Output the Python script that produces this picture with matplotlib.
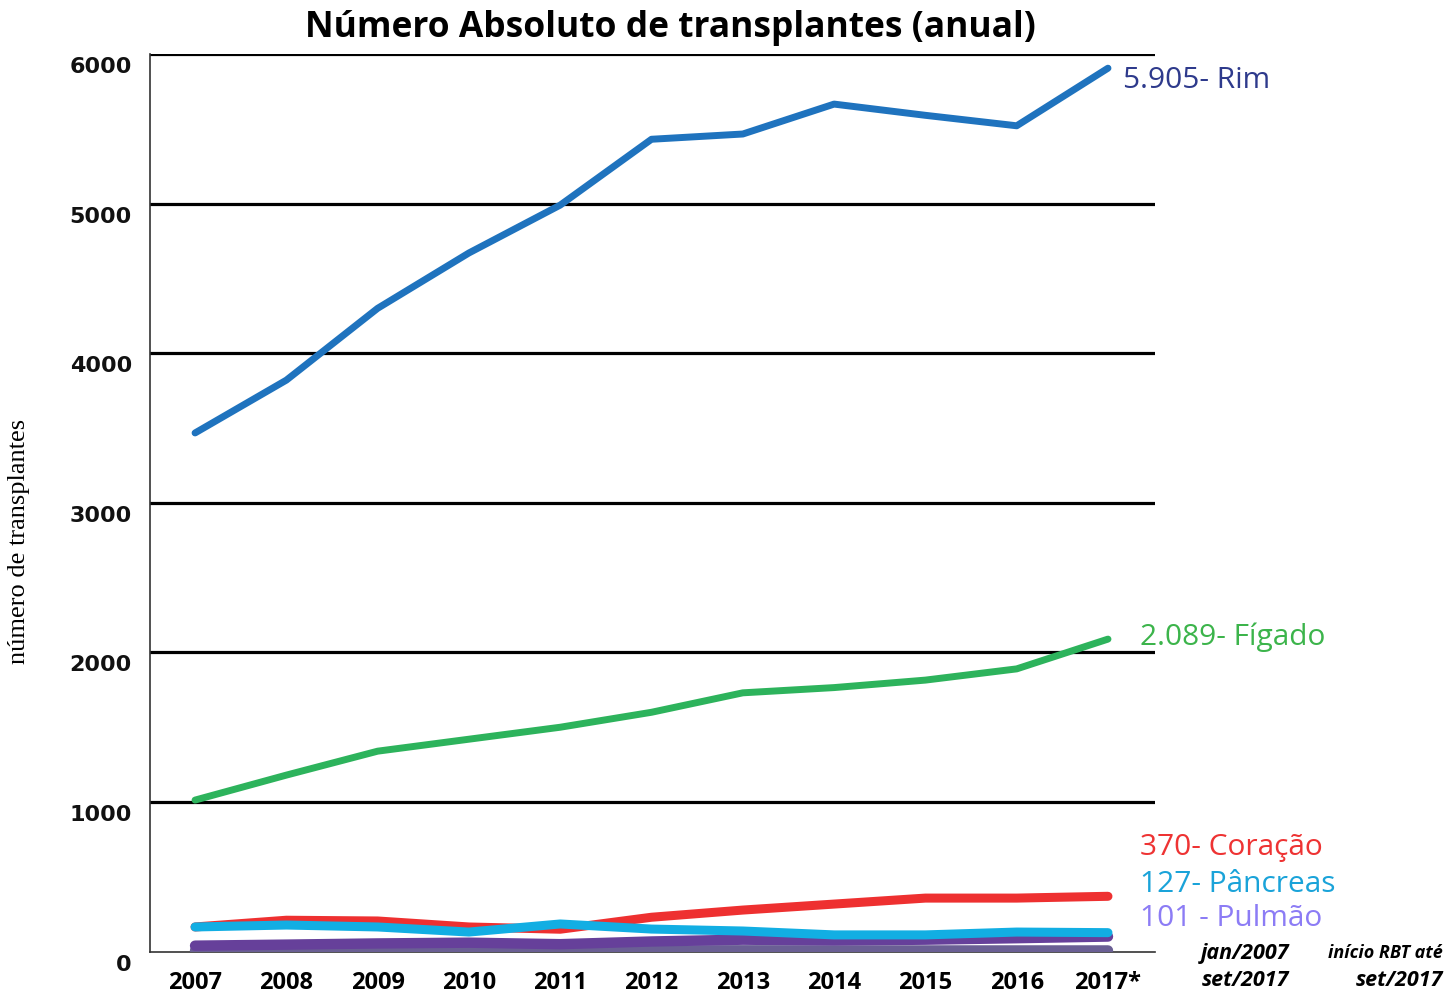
import matplotlib
matplotlib.use("Agg")
import matplotlib.pyplot as plt
import matplotlib.transforms as mtransforms

anos = [2007, 2008, 2009, 2010, 2011, 2012, 2013, 2014, 2015, 2016, 2017]
ano_labels = ['2007', '2008', '2009', '2010', '2011', '2012', '2013', '2014', '2015', '2016', '2017*']

rim = [3467, 3820, 4300, 4670, 4990, 5430, 5465, 5665, 5590, 5520, 5905]
figado = [1013, 1180, 1340, 1420, 1500, 1600, 1730, 1765, 1815, 1890, 2089]
coracao = [165, 210, 205, 165, 150, 230, 278, 318, 358, 358, 370]
pancreas = [165, 178, 165, 131, 185, 151, 138, 112, 112, 131, 127]
pulmao = [40, 47, 55, 60, 50, 68, 80, 75, 80, 90, 101]
outros = [8, 8, 9, 9, 8, 8, 9, 8, 8, 8, 8]

plt.rcParams['font.family'] = ['Open Sans', 'DejaVu Sans']

fig = plt.figure(figsize=(14.47, 9.94), dpi=100)
ax = fig.add_axes([0.1037, 0.0426, 0.6945, 0.9031])

ax.plot(anos, outros, color='#6a5f94', lw=7.5, solid_capstyle='round', zorder=3)
ax.plot(anos, pulmao, color='#66409a', lw=7.5, solid_capstyle='round', zorder=4)
ax.plot(anos, coracao, color='#ee3030', lw=6.5, solid_capstyle='round', zorder=5)
ax.plot(anos, pancreas, color='#12aee3', lw=6.5, solid_capstyle='round', zorder=6)
ax.plot(anos, figado, color='#2db35c', lw=5, solid_capstyle='round', zorder=5)
ax.plot(anos, rim, color='#1f73be', lw=5, solid_capstyle='round', zorder=5)

ax.set_xlim(2006.507, 2017.515)
ax.set_ylim(0, 6000)
ax.set_yticks([0, 1000, 2000, 3000, 4000, 5000, 6000])
ax.set_xticks(anos)
ax.set_xticklabels(ano_labels)

for y in [1000, 2000, 3000, 4000, 5000, 6000]:
    ax.axhline(y, color='black', lw=2.3, zorder=2)

for s in ['top', 'right']:
    ax.spines[s].set_visible(False)
ax.spines['left'].set_color('#333333')
ax.spines['left'].set_linewidth(1.2)
ax.spines['bottom'].set_color('#333333')
ax.spines['bottom'].set_linewidth(1.2)

ax.tick_params(axis='both', length=0)
ax.tick_params(axis='y', pad=13)
ax.tick_params(axis='x', pad=14)
for lab in ax.get_yticklabels():
    lab.set_fontfamily('DejaVu Sans')
    lab.set_fontweight('bold')
    lab.set_fontsize(16)
    lab.set_color('#111111')
    lab.set_transform(lab.get_transform() + mtransforms.ScaledTranslation(0, -0.11, fig.dpi_scale_trans))
for lab in ax.get_xticklabels():
    lab.set_fontweight('bold')
    lab.set_fontsize(17)

ax.set_ylabel('número de transplantes', family='Liberation Serif', fontsize=19)
ax.yaxis.set_label_coords(-0.119, 0.457)

fig.text(0.463, 0.972, 'Número Absoluto de transplantes (anual)', ha='center', va='center',
         fontsize=25.5, fontweight='bold')

fig.text(1123 / 1447, 1 - 80 / 994, '5.905- Rim', color='#2e3a8c', fontsize=21.5, va='center')
fig.text(1140 / 1447, 1 - 637 / 994, '2.089- Fígado', color='#3cb44b', fontsize=21.5, va='center')
fig.text(1140 / 1447, 1 - 847 / 994, '370- Coração', color='#ee3333', fontsize=21.5, va='center')
fig.text(1140 / 1447, 1 - 885 / 994, '127- Pâncreas', color='#1aa3d9', fontsize=21.5, va='center')
fig.text(1140 / 1447, 1 - 919 / 994, '101 - Pulmão', color='#8c7cf5', fontsize=21.5, va='center')

fig.text(1245 / 1447, 1 - 953 / 994, 'jan/2007', fontsize=15.5, style='italic', fontweight='bold', ha='center', va='center')
fig.text(1245 / 1447, 1 - 981 / 994, 'set/2017', fontsize=15.5, style='italic', fontweight='bold', ha='center', va='center')
fig.text(1443 / 1447, 1 - 953 / 994, 'início RBT até', fontsize=13, style='italic', fontweight='bold', ha='right', va='center')
fig.text(1443 / 1447, 1 - 981 / 994, 'set/2017', fontsize=15.5, style='italic', fontweight='bold', ha='right', va='center')

fig.savefig('out.png', dpi=100)
